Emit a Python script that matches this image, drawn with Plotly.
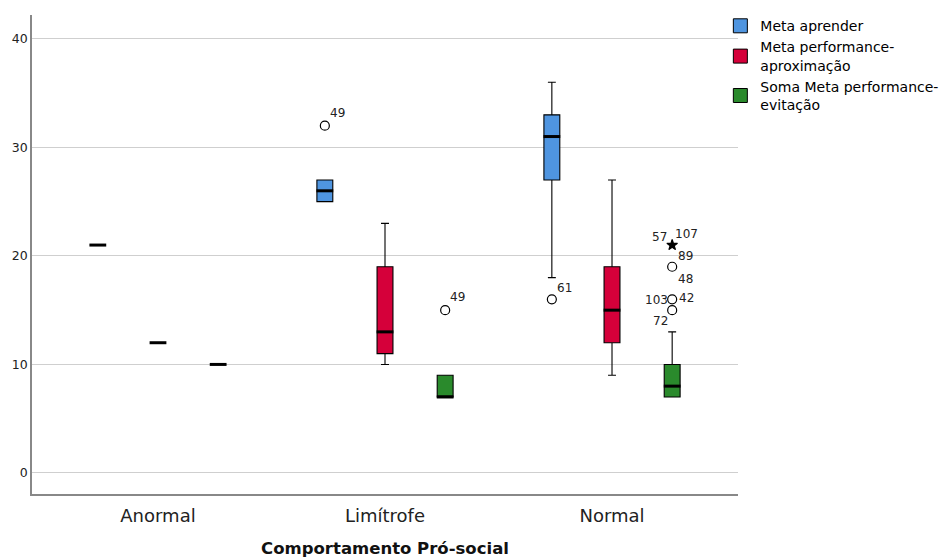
import plotly.graph_objects as go

categories = ["Anormal", "Limítrofe", "Normal"]
series_names = ["Meta aprender", "Meta performance-<br>aproximação", "Soma Meta performance-<br>evitação"]
series_colors = ["#4F95E0", "#D5003A", "#2A8A2C"]

# per-series box statistics (one value per category)
aprender_low = [21, 25, 18]
aprender_q1 = [21, 25, 27]
aprender_med = [21, 26, 31]
aprender_q3 = [21, 27, 33]
aprender_up = [21, 27, 36]

aprox_low = [12, 10, 9]
aprox_q1 = [12, 11, 12]
aprox_med = [12, 13, 15]
aprox_q3 = [12, 19, 19]
aprox_up = [12, 23, 27]

evit_low = [10, 7, 7]
evit_q1 = [10, 7, 7]
evit_med = [10, 7, 8]
evit_q3 = [10, 9, 10]
evit_up = [10, 9, 13]

# outliers: series index, category index, value, symbol
out_series = [0, 2, 0, 2, 2, 2, 2]
out_cat = [1, 1, 2, 2, 2, 2, 2]
out_val = [32, 15, 16, 21, 19, 16, 15]
out_symbol = ["circle-open", "circle-open", "circle-open", "star", "circle-open", "circle-open", "circle-open"]

# case labels: series, category, value, text
lab_series = [0, 2, 0, 2, 2, 2, 2, 2, 2, 2]
lab_cat = [1, 1, 2, 2, 2, 2, 2, 2, 2, 2]
lab_val = [32, 15, 16, 21, 21, 19, 19, 16, 16, 15]
lab_text = ["49", "49", "61", "57", "107", "89", "48", "103", "42", "72"]
# pixel offsets of label centre from its point (style only)
lab_dx = [13, 12, 13, -13, 14, 13, 13, -16, 14, -12]
lab_dy = [13, 13, 11, 8, 11, 11, -12, -1, 1, -11]

stats = [
    (aprender_low, aprender_q1, aprender_med, aprender_q3, aprender_up),
    (aprox_low, aprox_q1, aprox_med, aprox_q3, aprox_up),
    (evit_low, evit_q1, evit_med, evit_q3, evit_up),
]

OFFSETS = [-0.265, 0.0, 0.265]
BOXW = 0.07
FONT = "DejaVu Sans"

fig = go.Figure()
for s, (low, q1, med, q3, up) in enumerate(stats):
    xs = [i + OFFSETS[s] for i in range(len(categories))]
    fig.add_trace(go.Box(
        x=xs, q1=q1, median=med, q3=q3, lowerfence=low, upperfence=up,
        width=BOXW, whiskerwidth=0.5, boxpoints=False,
        fillcolor=series_colors[s], line=dict(color="black", width=1.1),
        name=series_names[s], legendgroup=str(s), showlegend=False,
        hoverinfo="skip",
    ))
    fig.add_trace(go.Scatter(
        x=xs, y=med, mode="markers",
        marker=dict(symbol="line-ew", size=12, line=dict(color="black", width=3)),
        showlegend=False, legendgroup=str(s), hoverinfo="skip",
    ))
    # legend swatch
    fig.add_trace(go.Scatter(
        x=[None], y=[None], mode="markers", name=series_names[s],
        marker=dict(symbol="square", size=14, color=series_colors[s],
                    line=dict(color="black", width=1)),
        legendgroup=str(s), showlegend=True,
    ))

# outliers
for k in range(len(out_val)):
    x = out_cat[k] + OFFSETS[out_series[k]]
    sym = out_symbol[k]
    fig.add_trace(go.Scatter(
        x=[x], y=[out_val[k]], mode="markers",
        marker=dict(symbol=sym, size=9 if sym != "star" else 8, color="black",
                    line=dict(color="black", width=1.2)),
        showlegend=False, hoverinfo="skip",
    ))

# case labels
for k in range(len(lab_text)):
    x = lab_cat[k] + OFFSETS[lab_series[k]]
    fig.add_annotation(
        x=x, y=lab_val[k], text=lab_text[k], showarrow=False,
        xshift=lab_dx[k], yshift=lab_dy[k],
        font=dict(family=FONT, size=12, color="#222"),
    )

fig.update_layout(
    width=942, height=558,
    margin=dict(l=32, r=204, t=15, b=64, autoexpand=False),
    paper_bgcolor="white", plot_bgcolor="white",
    boxmode="overlay",
    font=dict(family=FONT, color="#222"),
    legend=dict(x=0.975, y=1.01, xanchor="left", yanchor="top",
                font=dict(size=14, color="black", family=FONT),
                tracegroupgap=0, bgcolor="rgba(0,0,0,0)", itemwidth=30),
    xaxis=dict(
        range=[-0.555, 2.555], tickvals=list(range(len(categories))), ticktext=categories,
        showgrid=False, zeroline=False, showline=True, linecolor="#888", linewidth=1.5,
        ticks="", tickfont=dict(size=18, color="#222"), automargin=False,
        ticklabelstandoff=5,
        title=dict(text="<b>Comportamento Pró-social</b>", font=dict(size=16.5, color="#111"), standoff=18),
    ),
    yaxis=dict(
        range=[-1.94, 42.2], tickvals=[0, 10, 20, 30, 40],
        showgrid=True, gridcolor="#cfcfcf", gridwidth=1, zeroline=False,
        showline=True, linecolor="#888", linewidth=1.5, ticks="",
        tickfont=dict(size=12.5, color="#222"), automargin=False,
    ),
)

fig.write_html("out.html", config={"displayModeBar": False},
               post_script="document.body.style.margin='0';")
